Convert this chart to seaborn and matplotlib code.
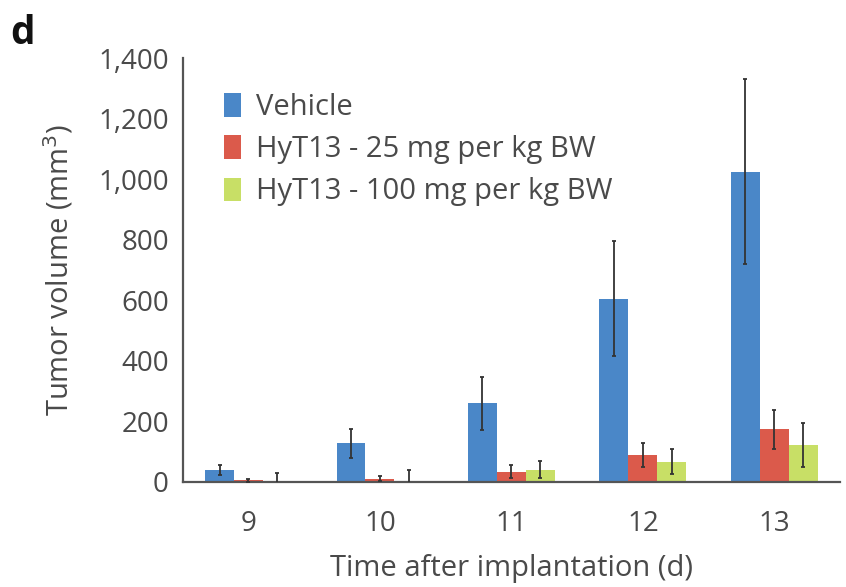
import numpy as np
import pandas as pd
import seaborn as sns
import matplotlib
import matplotlib.pyplot as plt
from matplotlib.ticker import FuncFormatter, FixedLocator

# --------------------------------------------------------------------------- #
# Data
# --------------------------------------------------------------------------- #
DAYS = ["9", "10", "11", "12", "13"]
GROUPS = ["Vehicle", "HyT13 - 25 mg per kg BW", "HyT13 - 100 mg per kg BW"]

VEHICLE_MEAN = [40, 128, 260, 605, 1025]
VEHICLE_ERR = [16, 48, 88, 190, 305]
LOW_MEAN = [5, 10, 34, 89, 174]
LOW_ERR = [6, 8, 22, 40, 65]
HIGH_MEAN = [3, 4, 40, 67, 122]
HIGH_ERR = [26, 34, 28, 41, 73]

COLORS = ["#4a87c8", "#db5a4b", "#c8df66"]

# --------------------------------------------------------------------------- #
# Build long table
# --------------------------------------------------------------------------- #
means = [VEHICLE_MEAN, LOW_MEAN, HIGH_MEAN]
errs = [VEHICLE_ERR, LOW_ERR, HIGH_ERR]
rows = []
for g, m in zip(GROUPS, means):
    for d, v in zip(DAYS, m):
        rows.append({"day": d, "group": g, "volume": v})
df = pd.DataFrame(rows)

sns.set_style("white")
plt.rcParams["font.family"] = ["Open Sans", "DejaVu Sans"]

TEXT = "#4a4a4a"
FS = 21
TICK_FS = 20

fig = plt.figure(figsize=(8.46, 5.87), dpi=100)
ax = fig.add_axes([0.216, 0.179, 0.777, 0.722])

sns.barplot(
    data=df, x="day", y="volume", hue="group",
    order=DAYS, hue_order=GROUPS, palette=COLORS,
    errorbar=None, width=0.66, saturation=1, linewidth=0, ax=ax,
)

# error bars placed on the bars seaborn drew
for cont, e in zip(ax.containers, errs):
    xs = [p.get_x() + p.get_width() / 2 for p in cont]
    hs = [p.get_height() for p in cont]
    ax.errorbar(xs, hs, yerr=e, fmt="none", ecolor="#333333",
                elinewidth=1.3, capsize=1.5, capthick=1.3, zorder=3)

ax.set_xlim(-0.5, len(DAYS) - 0.5)
ax.set_ylim(0, 1400)
ax.set_yticks(np.arange(0, 1401, 200))
ax.yaxis.set_major_formatter(FuncFormatter(lambda v, _: f"{int(v):,}"))

ax.xaxis.set_minor_locator(FixedLocator(np.arange(-0.5, len(DAYS), 1.0)))
ax.tick_params(axis="x", which="major", length=0, pad=20,
               labelsize=TICK_FS, labelcolor=TEXT)
ax.tick_params(axis="x", which="minor", length=4, width=1.2,
               color="#555555", direction="out")
ax.tick_params(axis="y", length=4, width=1.2, color="#555555",
               labelsize=TICK_FS, labelcolor=TEXT, pad=6)

for s in ["top", "right"]:
    ax.spines[s].set_visible(False)
for s in ["left", "bottom"]:
    ax.spines[s].set_color("#555555")
    ax.spines[s].set_linewidth(1.6)

ax.set_xlabel("Time after implantation (d)", fontsize=FS, color=TEXT, labelpad=12)
ax.set_ylabel("Tumor volume (mm$^3$)", fontsize=FS, color=TEXT, labelpad=16)

leg = ax.legend(
    loc="upper left", bbox_to_anchor=(0.045, 0.945), frameon=False,
    fontsize=FS, handlelength=0.6, handleheight=0.85, handletextpad=0.5,
    labelspacing=0.45, borderaxespad=0,
)
for t in leg.get_texts():
    t.set_color(TEXT)

fig.text(0.012, 0.925, "d", fontsize=28, fontweight="bold", color="#111111")

fig.savefig("out.png", dpi=100, facecolor="white")
